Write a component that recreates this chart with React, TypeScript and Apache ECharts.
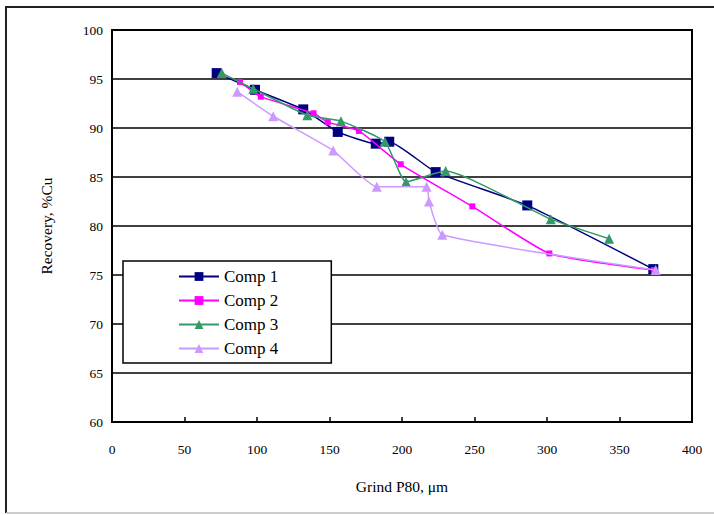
import React, { useEffect, useRef } from "react";
import * as echarts from "echarts";

const seriesNames = ["Comp 1", "Comp 2", "Comp 3", "Comp 4"];

const comp1: [number, number][] = [
  [72.2, 95.6], [98.6, 93.9], [131.9, 91.9], [155.7, 89.6], [181.9, 88.4],
  [191.2, 88.6], [223.2, 85.5], [286.4, 82.1], [373.3, 75.6],
];
const comp2: [number, number][] = [
  [88.3, 94.7], [102.6, 93.2], [139.0, 91.5], [148.8, 90.6], [170.3, 89.7],
  [199.1, 86.3], [248.5, 82.0], [301.6, 77.2], [373.8, 75.5],
];
const comp3: [number, number][] = [
  [75.7, 95.6], [97.4, 94.0], [134.7, 91.3], [157.9, 90.7], [188.3, 88.6],
  [202.8, 84.5], [230.1, 85.6], [302.6, 80.7], [342.8, 78.7],
];
const comp4: [number, number][] = [
  [86.4, 93.7], [111.2, 91.2], [152.6, 87.7], [182.6, 84.0], [217.0, 84.0],
  [218.6, 82.5], [227.8, 79.1], [375.0, 75.5],
];

const colors = ["#000080", "#FF00FF", "#339966", "#CC99FF"];
const symbols = ["rect", "rect", "triangle", "triangle"];
const symbolSizes = [10, 6, 10, 10];
const dataSets = [comp1, comp2, comp3, comp4];

const xTitle = "Grind P80, μm";
const yTitle = "Recovery, %Cu";

export default function App() {
  const ref = useRef<HTMLDivElement>(null);
  useEffect(() => {
    if (!ref.current) return;
    const chart = echarts.init(ref.current, null, { renderer: "svg" });
    const font = "'Liberation Serif', 'Times New Roman', serif";
    chart.setOption({
      animation: false,
      backgroundColor: "#ffffff",
      textStyle: { fontFamily: font, color: "#000" },
      grid: {
        left: 112, top: 30, width: 580, height: 392,
        show: true, borderColor: "#000", borderWidth: 2, backgroundColor: "transparent",
      },
      xAxis: {
        type: "value", min: 0, max: 400, interval: 50,
        name: xTitle, nameLocation: "middle", nameGap: 56,
        nameTextStyle: { fontFamily: font, fontSize: 15.5, color: "#000" },
        axisLine: { show: true, onZero: false, lineStyle: { color: "#000", width: 2 } },
        axisTick: { show: true, inside: true, length: 5, lineStyle: { color: "#000", width: 1.5 } },
        axisLabel: { fontFamily: font, fontSize: 13.5, color: "#000", margin: 20 },
        splitLine: { show: false },
      },
      yAxis: {
        type: "value", min: 60, max: 100, interval: 5,
        name: yTitle, nameLocation: "middle", nameGap: 58, nameRotate: 90,
        nameTextStyle: { fontFamily: font, fontSize: 15.5, color: "#000" },
        axisLine: { show: true, lineStyle: { color: "#000", width: 2 } },
        axisTick: { show: false },
        axisLabel: { fontFamily: font, fontSize: 13.5, color: "#000", margin: 9 },
        splitLine: { show: true, lineStyle: { color: "#000", width: 1.5 } },
      },
      legend: {
        orient: "vertical", left: 123, top: 261,
        padding: [7, 53, 6, 55], itemGap: 7, itemWidth: 40, itemHeight: 11,
        backgroundColor: "#fff", borderColor: "#000", borderWidth: 1.5,
        textStyle: { fontFamily: font, fontSize: 17, color: "#000" },
        data: seriesNames,
      },
      series: seriesNames.map((name, i) => ({
        name, type: "line", data: dataSets[i], smooth: 0.15,
        symbol: symbols[i], symbolSize: symbolSizes[i], z: 2 + i,
        lineStyle: { color: colors[i], width: 1.5 },
        itemStyle: { color: colors[i] },
      })),
      graphic: [
        { type: "line", shape: { x1: 5, y1: 7, x2: 714, y2: 7 }, style: { stroke: "#222", lineWidth: 2 } },
        { type: "line", shape: { x1: 6, y1: 7, x2: 6, y2: 513 }, style: { stroke: "#222", lineWidth: 2 } },
        { type: "line", shape: { x1: 6, y1: 513, x2: 714, y2: 513 }, style: { stroke: "#bbb", lineWidth: 1.5 } },
      ],
    });
    return () => chart.dispose();
  }, []);
  return (
    <div
      ref={ref}
      style={{ position: "fixed", left: 0, top: 0, width: 714, height: 515 }}
    />
  );
}
